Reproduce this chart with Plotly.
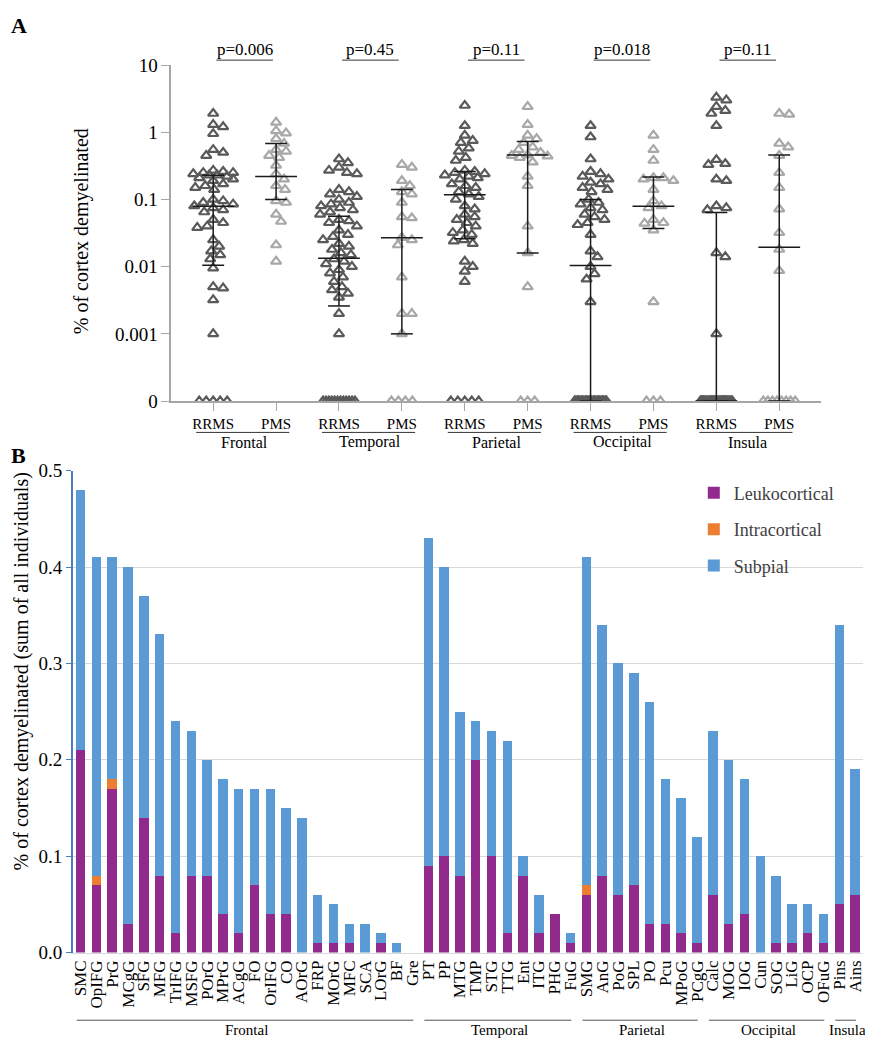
import math
import plotly.graph_objects as go

# Panel A data ---
regions = ["Frontal", "Temporal", "Parietal", "Occipital", "Insula"]
groups = ["RRMS", "PMS"]
p_values = ["p=0.006", "p=0.45", "p=0.11", "p=0.018", "p=0.11"]

frontal_rrms = [1.9, 1.3, 1.2, 0.95, 0.55, 0.5, 0.45, 0.27, 0.26, 0.25, 0.25, 0.24, 0.23, 0.23,
                0.22, 0.21, 0.2, 0.19, 0.17, 0.16, 0.15, 0.14, 0.1, 0.095, 0.09, 0.085, 0.08,
                0.075, 0.07, 0.065, 0.05, 0.045, 0.04, 0.038, 0.025, 0.02, 0.017, 0.015, 0.013,
                0.0095, 0.005, 0.0048, 0.0032, 0.001, 0, 0, 0, 0, 0]
frontal_pms = [1.4, 1.05, 0.97, 0.8, 0.68, 0.55, 0.52, 0.45, 0.42, 0.32, 0.24, 0.2, 0.16, 0.14,
               0.095, 0.09, 0.06, 0.047, 0.021, 0.012]
temporal_rrms = [0.4, 0.35, 0.3, 0.27, 0.25, 0.24, 0.14, 0.13, 0.12, 0.11, 0.1, 0.09, 0.085, 0.08,
                 0.075, 0.07, 0.065, 0.06, 0.05, 0.048, 0.045, 0.04, 0.035, 0.03, 0.028, 0.025,
                 0.022, 0.02, 0.018, 0.016, 0.015, 0.013, 0.012, 0.011, 0.01, 0.009, 0.008, 0.007,
                 0.006, 0.005, 0.0045, 0.004, 0.0035, 0.002, 0.001, 0, 0, 0, 0, 0, 0, 0, 0, 0, 0,
                 0, 0]
temporal_pms = [0.33, 0.3, 0.19, 0.16, 0.13, 0.12, 0.09, 0.055, 0.053, 0.027, 0.025, 0.021, 0.007,
                0.002, 0.002, 0.001, 0, 0, 0, 0]
parietal_rrms = [2.5, 1.25, 0.9, 0.75, 0.7, 0.58, 0.52, 0.42, 0.38, 0.27, 0.26, 0.25, 0.24, 0.23,
                 0.22, 0.21, 0.2, 0.17, 0.16, 0.15, 0.13, 0.12, 0.11, 0.1, 0.08, 0.072, 0.06, 0.055,
                 0.05, 0.045, 0.04, 0.035, 0.032, 0.03, 0.025, 0.024, 0.022, 0.012, 0.01, 0.0085,
                 0.006, 0, 0, 0, 0, 0]
parietal_pms = [2.4, 1.3, 0.9, 0.8, 0.7, 0.6, 0.55, 0.5, 0.46, 0.45, 0.44, 0.42, 0.36, 0.22, 0.16,
                0.04, 0.016, 0.005, 0, 0, 0]
occipital_rrms = [1.25, 0.85, 0.4, 0.26, 0.24, 0.22, 0.2, 0.18, 0.17, 0.15, 0.14, 0.13, 0.1, 0.09,
                  0.085, 0.075, 0.07, 0.06, 0.055, 0.05, 0.045, 0.042, 0.03, 0.017, 0.014, 0.01,
                  0.0078, 0.0065, 0.003] + [0] * 25
occipital_pms = [0.9, 0.55, 0.38, 0.21, 0.21, 0.2, 0.19, 0.14, 0.095, 0.08, 0.075, 0.05, 0.045,
                 0.044, 0.035, 0.003, 0, 0, 0]
insula_rrms = [3.3, 3.0, 2.4, 2.1, 1.9, 1.25, 0.39, 0.34, 0.33, 0.2, 0.19, 0.08, 0.075, 0.07,
               0.016, 0.014, 0.001] + [0] * 30
insula_pms = [1.9, 1.85, 0.68, 0.6, 0.45, 0.25, 0.15, 0.072, 0.032, 0.018, 0.0087,
              0, 0, 0, 0, 0, 0, 0, 0]

columns_a = [frontal_rrms, frontal_pms, temporal_rrms, temporal_pms, parietal_rrms,
             parietal_pms, occipital_rrms, occipital_pms, insula_rrms, insula_pms]
medians = [0.079, 0.22, 0.0133, 0.027, 0.117, 0.46, 0.0104, 0.079, 0, 0.0195]
q1s = [0.0105, 0.1, 0.0026, 0.001, 0.026, 0.016, 0, 0.037, 0, 0]
q3s = [0.23, 0.68, 0.056, 0.14, 0.26, 0.73, 0.1, 0.216, 0.064, 0.46]

# Panel B data ---
frontal_areas = ["SMC", "OpIFG", "PrG", "MCgG", "SFG", "MFG", "TrIFG", "MSFG", "POrG", "MPrG",
                 "ACgG", "FO", "OrIFG", "CO", "AOrG", "FRP", "MOrG", "MFC", "SCA", "LOrG", "BF", "Gre"]
temporal_areas = ["PT", "PP", "MTG", "TMP", "STG", "TTG", "Ent", "ITG", "PHG", "FuG"]
parietal_areas = ["SMG", "AnG", "PoG", "SPL", "PO", "Pcu", "MPoG", "PCgG"]
occipital_areas = ["Calc", "MOG", "IOG", "Cun", "SOG", "LiG", "OCP", "OFuG"]
insula_areas = ["Pins", "Ains"]

leukocortical = [0.21, 0.07, 0.17, 0.03, 0.14, 0.08, 0.02, 0.08, 0.08, 0.04, 0.02, 0.07, 0.04, 0.04,
                 0, 0.01, 0.01, 0.01, 0, 0.01, 0, 0,
                 0.09, 0.10, 0.08, 0.20, 0.10, 0.02, 0.08, 0.02, 0.04, 0.01,
                 0.06, 0.08, 0.06, 0.07, 0.03, 0.03, 0.02, 0.01,
                 0.06, 0.03, 0.04, 0, 0.01, 0.01, 0.02, 0.01,
                 0.05, 0.06]
intracortical = [0, 0.01, 0.01] + [0] * 29 + [0.01] + [0] * 17
subpial = [0.27, 0.33, 0.23, 0.37, 0.23, 0.25, 0.22, 0.15, 0.12, 0.14, 0.15, 0.10, 0.13, 0.11,
           0.14, 0.05, 0.04, 0.02, 0.03, 0.01, 0.01, 0,
           0.34, 0.30, 0.17, 0.04, 0.13, 0.20, 0.02, 0.04, 0, 0.01,
           0.34, 0.26, 0.24, 0.22, 0.23, 0.15, 0.14, 0.11,
           0.17, 0.17, 0.14, 0.10, 0.07, 0.04, 0.03, 0.03,
           0.29, 0.13]

# Layout constants (pixels of the 873x1050 page) ---
PAGE_W, PAGE_H = 873, 1050
BODY_MARGIN = 8  # default page margin round the plot div
FW, FH = PAGE_W - 2 * BODY_MARGIN, PAGE_H - 2 * BODY_MARGIN
FONT = "'Liberation Serif', 'Times New Roman', Times, serif"
A_LEFT, A_RIGHT, A_TOP, A_BOTTOM = 170, 823, 56, 399
A_XRANGE = [-0.667, 9.667]
A_YRANGE = [-4, 1]
ZERO_AT = 1e-4  # "0" is drawn one decade below 0.001
B_LEFT, B_RIGHT, B_TOP, B_BOTTOM = 71, PAGE_W - BODY_MARGIN, 470, 962

RRMS_COLOR = '#5a5a5a'
PMS_COLOR = '#a8a8a8'
BAR_COLORS = ['#912a8c', '#ed7d31', '#5b9bd5']

px_per_unit = (A_RIGHT - A_LEFT) / (A_XRANGE[1] - A_XRANGE[0])
px_per_decade = (A_BOTTOM - A_TOP) / (A_YRANGE[1] - A_YRANGE[0])


def px(x):
    return min(max((x - BODY_MARGIN) / FW, 0), 1)


def py(y):
    return min(max(1 - (y - BODY_MARGIN) / FH, 0), 1)


def swarm(values, center, half_width=20, mx=10.0, my=8.0):
    # simple beeswarm in pixel space, zeros packed into one row
    nonzero = sorted([v for v in values if v > 0], reverse=True)
    n_zero = len(values) - len(nonzero)
    cands = [0] + [s * k for k in range(1, half_width + 1) for s in (1, -1)]
    placed, xs, ys = [], [], []
    for v in nonzero:
        y = math.log10(v) * px_per_decade

        def score(c):
            return min((((c - a) / mx) ** 2 + ((y - b) / my) ** 2 for a, b in placed), default=99)
        ok = [c for c in cands if score(c) >= 1]
        c = ok[0] if ok else max(cands, key=score)
        placed.append((c, y))
        xs.append(center + c / px_per_unit)
        ys.append(v)
    if n_zero:
        w = min((n_zero - 1) * 7, 32)
        for i in range(n_zero):
            off = -w / 2 + (w * i / (n_zero - 1) if n_zero > 1 else 0)
            xs.append(center + off / px_per_unit)
            ys.append(ZERO_AT)
    return xs, ys


def pv(v):
    return v if v > 0 else ZERO_AT


def label(x, y, text, size, xref='paper', angle=0, color='black'):
    return dict(x=x, y=y, xref=xref, yref='paper', text=text, showarrow=False, textangle=angle,
                xanchor='center', yanchor='middle', font=dict(family=FONT, size=size, color=color))


fig = go.Figure()

# Panel A: scatter of each column ---
for i, col in enumerate(columns_a):
    xs, ys = swarm(col, i)
    color = RRMS_COLOR if i % 2 == 0 else PMS_COLOR
    fig.add_trace(go.Scatter(
        x=xs, y=ys, mode='markers', showlegend=False, xaxis='x', yaxis='y',
        marker=dict(symbol='triangle-up-open', size=9, color=color, line=dict(width=2.2, color=color))))

# median and interquartile range bars
med_half = 21 / px_per_unit
cap_half = 11 / px_per_unit
for i in range(len(columns_a)):
    segs_x = [i, i, None, i - med_half, i + med_half, None,
              i - cap_half, i + cap_half, None, i - cap_half, i + cap_half]
    segs_y = [pv(q1s[i]), pv(q3s[i]), None, pv(medians[i]), pv(medians[i]), None,
              pv(q1s[i]), pv(q1s[i]), None, pv(q3s[i]), pv(q3s[i])]
    fig.add_trace(go.Scatter(x=segs_x, y=segs_y, mode='lines', showlegend=False,
                             xaxis='x', yaxis='y', line=dict(color='#1a1a1a', width=1.5)))

# Panel B: stacked bars ---
areas = frontal_areas + temporal_areas + parietal_areas + occipital_areas + insula_areas
for name, vals, color in zip(["Leukocortical", "Intracortical", "Subpial"],
                             [leukocortical, intracortical, subpial], BAR_COLORS):
    fig.add_trace(go.Bar(x=areas, y=vals, name=name, marker=dict(color=color, line=dict(width=0)),
                         xaxis='x2', yaxis='y2', legendgroup=name))

shapes = []
annotations = []

# p-values over panel A, region names below it
for k, p in enumerate(p_values):
    c = 2 * k + 0.5
    annotations.append(label(c, py(40), p, 17, xref='x'))
    shapes.append(dict(type='line', xref='x', yref='paper', x0=c - 0.45, x1=c + 0.45,
                       y0=py(51), y1=py(51), line=dict(color='#333333', width=1)))
    shapes.append(dict(type='line', xref='x', yref='paper', x0=2 * k - 0.27, x1=2 * k + 1.21,
                       y0=py(431), y1=py(431), line=dict(color='#333333', width=1)))
    annotations.append(label(c, py(441), regions[k], 16, xref='x'))

# region lines under panel B
start = 0
for name, group in zip(regions, [frontal_areas, temporal_areas, parietal_areas,
                                 occipital_areas, insula_areas]):
    end = start + len(group) - 1
    shapes.append(dict(type='line', xref='x2', yref='paper', x0=start - 0.25, x1=end + 0.05,
                       y0=py(1031), y1=py(1031), line=dict(color='#555555', width=1)))
    annotations.append(label((start + end) / 2, py(1041), name, 15, xref='x2'))
    start = end + 1

# axis titles and panel letters
annotations += [
    label(px(80), py(226), '% of cortex demyelinated', 20, angle=-90),
    label(px(20), py(675), '% of cortex demyelinated (sum of all individuals)', 20, angle=-90),
    label(px(17), py(16), '<b>A</b>', 22),
    label(px(17), py(455), '<b>B</b>', 22),
]

fig.update_layout(
    width=FW, height=FH,
    margin=dict(l=0, r=0, t=0, b=0),
    plot_bgcolor='white', paper_bgcolor='white',
    font=dict(family=FONT, color='black'),
    barmode='stack', bargap=0.4,
    shapes=shapes, annotations=annotations,
    xaxis=dict(domain=[px(A_LEFT), px(A_RIGHT)], range=A_XRANGE, anchor='y',
               tickmode='array', tickvals=list(range(10)), ticktext=groups * 5,
               ticks='outside', ticklen=8, tickcolor='#a6a6a6', showline=True,
               linecolor='#a6a6a6', linewidth=1.5, showgrid=False, zeroline=False,
               tickfont=dict(family=FONT, size=15, color='black')),
    yaxis=dict(domain=[py(A_BOTTOM), py(A_TOP)], type='log', range=A_YRANGE, anchor='x',
               tickmode='array', tickvals=[ZERO_AT, 1e-3, 1e-2, 1e-1, 1, 10],
               ticktext=['0', '0.001', '0.01', '0.1', '1', '10'],
               ticks='outside', ticklen=8, tickcolor='#a6a6a6', showline=True,
               linecolor='#a6a6a6', linewidth=1.5, showgrid=False, zeroline=False,
               tickfont=dict(family=FONT, size=19, color='black')),
    xaxis2=dict(domain=[px(B_LEFT), px(B_RIGHT)], range=[-0.5, len(areas) - 0.5], anchor='y2',
                type='category', tickmode='array', tickvals=areas, ticktext=areas,
                tickangle=-90, ticks='', showline=True, linecolor='#d9d9d9', showgrid=False,
                tickfont=dict(family=FONT, size=17, color='black')),
    yaxis2=dict(domain=[py(B_BOTTOM), py(B_TOP)], range=[0, 0.5], anchor='x2',
                tickmode='array', tickvals=[0, 0.1, 0.2, 0.3, 0.4, 0.5],
                ticktext=['0.0', '0.1', '0.2', '0.3', '0.4', '0.5'],
                ticks='outside', ticklen=5, tickcolor='#4a7ebb', showline=True,
                linecolor='#4a7ebb', linewidth=1.5, showgrid=True, gridcolor='#d9d9d9',
                zeroline=False, tickfont=dict(family=FONT, size=19, color='black')),
    legend=dict(x=px(695), y=py(474), xanchor='left', yanchor='top', traceorder='grouped',
                tracegroupgap=10, font=dict(family=FONT, size=18, color='#404040'),
                bgcolor='rgba(0,0,0,0)'),
)

fig.write_html("out.html")
